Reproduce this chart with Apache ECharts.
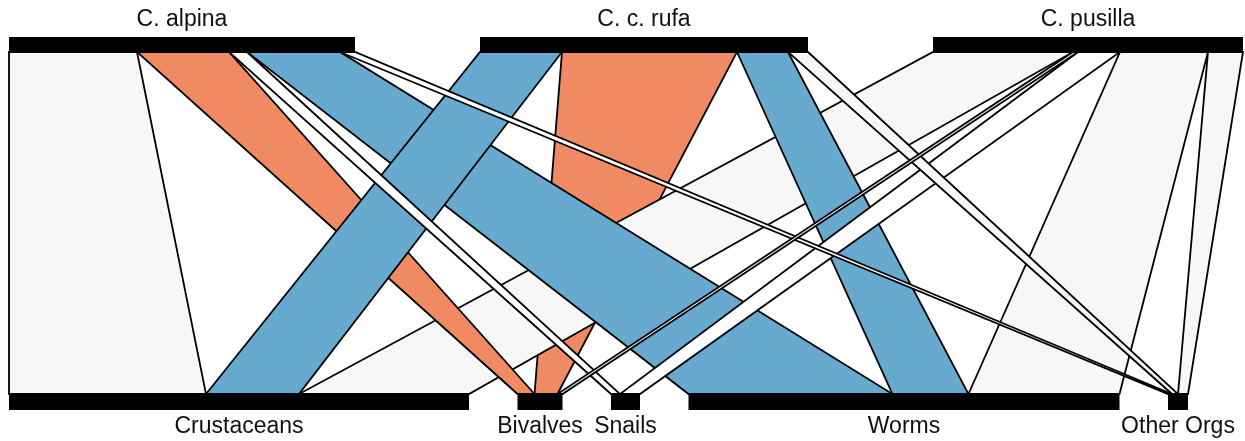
<!DOCTYPE html>
<html><head><meta charset="utf-8">
<script src="https://cdn.jsdelivr.net/npm/echarts@6/dist/echarts.min.js"></script>
<style>html,body{margin:0;padding:0;background:#fff}#c{width:1245px;height:441px}</style>
</head><body><div id="c"></div>
<script>
// Higher level (predators) and lower level (prey groups)
const higher = ['C. alpina', 'C. c. rufa', 'C. pusilla'];
const lower = ['Crustaceans', 'Bivalves', 'Snails', 'Worms', 'Other Orgs'];

// Interaction widths at the predator end (one array per predator, prey order as above)
const alpinaTop  = [128, 92, 18, 93, 15];
const rufaTop    = [82, 175, 0, 51, 20];
const pusillaTop = [140, 5, 42, 88, 35];

// Interaction widths at the prey end (one array per predator, prey order as above)
const alpinaLow  = [197, 17, 9, 204, 4];
const rufaLow    = [93, 23, 0, 76, 6];
const pusillaLow = [170, 5, 20, 151, 10];

// Link fill colours
const GREY = '#f7f7f7', ORANGE = '#ef8a62', BLUE = '#67a9cf', WHITE = '#ffffff';
const alpinaCol  = [GREY, ORANGE, WHITE, BLUE, WHITE];
const rufaCol    = [BLUE, ORANGE, WHITE, BLUE, GREY];
const pusillaCol = [GREY, WHITE, WHITE, GREY, GREY];

const TOP_GAP = 125, LOW_GAP = 48.5;

const topRows = [alpinaTop, rufaTop, pusillaTop];
const lowRows = [alpinaLow, rufaLow, pusillaLow];
const colRows = [alpinaCol, rufaCol, pusillaCol];
const sum = a => a.reduce((s, v) => s + v, 0);

const topTotals = topRows.map(sum);
const lowTotals = lower.map((_, j) => lowRows.reduce((s, r) => s + r[j], 0));
const topStart = [], lowStart = [];
let acc = 0;
topTotals.forEach((t, i) => { topStart[i] = acc; acc += t + TOP_GAP; });
const TOTAL = acc - TOP_GAP;
acc = 0;
lowTotals.forEach((t, j) => { lowStart[j] = acc; acc += t + LOW_GAP; });

const links = [];
higher.forEach((h, i) => {
  lower.forEach((l, j) => {
    if (topRows[i][j] <= 0 && lowRows[i][j] <= 0) return;
    const ts = topStart[i] + sum(topRows[i].slice(0, j));
    const ls = lowStart[j] + lowRows.slice(0, i).reduce((s, r) => s + r[j], 0);
    links.push({ ts, te: ts + topRows[i][j], ls, le: ls + lowRows[i][j], w: topRows[i][j], color: colRows[i][j] });
  });
});
links.sort((a, b) => b.w - a.w);

const bars = [];
higher.forEach((h, i) => bars.push({ s: topStart[i], e: topStart[i] + topTotals[i], lvl: 1, name: h }));
lower.forEach((l, j) => bars.push({ s: lowStart[j], e: lowStart[j] + lowTotals[j], lvl: 0, name: l }));

const chart = echarts.init(document.getElementById('c'), null, { renderer: 'canvas' });
chart.setOption({
  animation: false,
  backgroundColor: '#ffffff',
  grid: { left: 9, right: 1245 - 9 - TOTAL, top: 52, bottom: 47 },
  xAxis: { type: 'value', min: 0, max: TOTAL, show: false },
  yAxis: { type: 'value', min: 0, max: 1, show: false },
  series: [
    {
      type: 'custom', clip: false, silent: true,
      data: links.map(d => [d.ts, d.te, d.ls, d.le]),
      renderItem: (params, api) => {
        const d = links[params.dataIndex];
        const p = [
          api.coord([api.value(0), 1]), api.coord([api.value(1), 1]),
          api.coord([api.value(3), 0]), api.coord([api.value(2), 0])
        ];
        return { type: 'polygon', shape: { points: p },
          style: { fill: d.color, stroke: '#000', lineWidth: 1.8, lineJoin: 'miter' } };
      }
    },
    {
      type: 'custom', clip: false, silent: true,
      data: bars.map(b => [b.s, b.e, b.lvl]),
      renderItem: (params, api) => {
        const b = bars[params.dataIndex];
        const p0 = api.coord([api.value(0), api.value(2)]);
        const p1 = api.coord([api.value(1), api.value(2)]);
        const top = b.lvl === 1;
        const h = top ? 15 : 16;
        const y = top ? p0[1] - h : p0[1];
        return { type: 'group', children: [
          { type: 'rect', shape: { x: p0[0], y: y, width: p1[0] - p0[0], height: h }, style: { fill: '#000' } },
          { type: 'text', style: { text: b.name, x: (p0[0] + p1[0]) / 2, y: top ? p0[1] - 32 : p0[1] + 33,
              align: 'center', verticalAlign: 'middle', fill: '#111',
              font: '23px "Liberation Sans", Arial, sans-serif' } }
        ] };
      }
    }
  ]
});
</script></body></html>
